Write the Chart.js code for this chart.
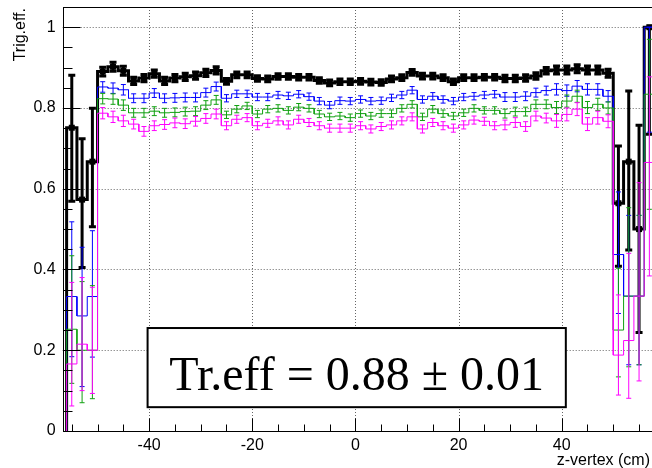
<!DOCTYPE html>
<html>
<head>
<meta charset="utf-8">
<script src="https://cdn.jsdelivr.net/npm/chart.js@4.4.1/dist/chart.umd.min.js"></script>
<style>
  html, body { margin: 0; padding: 0; background: #fff; overflow: hidden; }
</style>
</head>
<body>
<canvas id="eff-chart" width="660" height="468"></canvas>
<script>
// bin centres of the z-vertex histogram (cm), 2 cm bins
const zCenters = [
    -55, -53, -51, -49, -47, -45, -43, -41, -39, -37, -35, -33, -31, -29, -27,
    -25, -23, -21, -19, -17, -15, -13, -11, -9, -7, -5, -3, -1,
    1, 3, 5, 7, 9, 11, 13, 15, 17, 19, 21, 23, 25,
    27, 29, 31, 33, 35, 37, 39, 41, 43, 45, 47, 49,
    51, 53, 55, 57
];
const binHalfWidth = 1;

const effBlack = [
    0.751, 0.573, 0.667,
    0.890, 0.902, 0.892, 0.867, 0.874, 0.885, 0.867, 0.874, 0.877, 0.880, 0.887, 0.893,
    0.866, 0.882, 0.882, 0.873, 0.872, 0.878, 0.878, 0.876, 0.876, 0.868, 0.862, 0.865, 0.865,
    0.866, 0.864, 0.863, 0.872, 0.875, 0.888, 0.879, 0.879, 0.875, 0.865, 0.875, 0.875, 0.876,
    0.876, 0.873, 0.873, 0.874, 0.879, 0.892, 0.894, 0.894, 0.897, 0.894, 0.894, 0.886,
    0.564, 0.667, 0.500, 1.000
];
const errBlackUp = [
    0.130, 0.151, 0.132,
    0.011, 0.011, 0.011, 0.009, 0.009, 0.009, 0.009, 0.009, 0.009, 0.009, 0.009, 0.009,
    0.007, 0.007, 0.007, 0.007, 0.007, 0.007, 0.007, 0.007, 0.007, 0.007, 0.007, 0.007, 0.007,
    0.007, 0.007, 0.007, 0.007, 0.007, 0.007, 0.007, 0.007, 0.007, 0.007, 0.007, 0.007, 0.007,
    0.007, 0.008, 0.008, 0.008, 0.008, 0.008, 0.010, 0.010, 0.010, 0.010, 0.010, 0.010,
    0.142, 0.175, 0.257, 0.000
];
const errBlackDn = [
    0.182, 0.168, 0.161,
    0.011, 0.011, 0.011, 0.009, 0.009, 0.009, 0.009, 0.009, 0.009, 0.009, 0.009, 0.009,
    0.007, 0.007, 0.007, 0.007, 0.007, 0.007, 0.007, 0.007, 0.007, 0.007, 0.007, 0.007, 0.007,
    0.007, 0.007, 0.007, 0.007, 0.007, 0.007, 0.007, 0.007, 0.007, 0.007, 0.007, 0.007, 0.007,
    0.007, 0.008, 0.008, 0.008, 0.008, 0.008, 0.010, 0.010, 0.010, 0.010, 0.010, 0.010,
    0.156, 0.219, 0.256, 0.265
];

const effBlue = [
    0.333, 0.285, 0.333,
    0.852, 0.849, 0.845, 0.824, 0.824, 0.837, 0.824, 0.825, 0.826, 0.826, 0.838, 0.853,
    0.824, 0.835, 0.835, 0.827, 0.827, 0.832, 0.830, 0.834, 0.828, 0.817, 0.807, 0.818, 0.817,
    0.821, 0.817, 0.818, 0.825, 0.832, 0.844, 0.821, 0.829, 0.821, 0.817, 0.827, 0.829, 0.832,
    0.834, 0.827, 0.827, 0.829, 0.838, 0.843, 0.846, 0.843, 0.854, 0.846, 0.846, 0.829,
    0.437, 0.334, 0.334, 1.000
];
const errBlueUp = [
    0.185, 0.170, 0.163,
    0.013, 0.013, 0.013, 0.011, 0.011, 0.011, 0.011, 0.011, 0.011, 0.011, 0.011, 0.011,
    0.009, 0.009, 0.009, 0.009, 0.009, 0.009, 0.009, 0.009, 0.009, 0.009, 0.009, 0.009, 0.009,
    0.009, 0.009, 0.009, 0.009, 0.009, 0.009, 0.009, 0.009, 0.009, 0.009, 0.009, 0.009, 0.009,
    0.009, 0.011, 0.011, 0.011, 0.011, 0.011, 0.014, 0.014, 0.014, 0.014, 0.014, 0.014,
    0.155, 0.200, 0.200, 0.000
];
const errBlueDn = [
    0.149, 0.175, 0.150,
    0.013, 0.013, 0.013, 0.011, 0.011, 0.011, 0.011, 0.011, 0.011, 0.011, 0.011, 0.011,
    0.009, 0.009, 0.009, 0.009, 0.009, 0.009, 0.009, 0.009, 0.009, 0.009, 0.009, 0.009, 0.009,
    0.009, 0.009, 0.009, 0.009, 0.009, 0.009, 0.009, 0.009, 0.009, 0.009, 0.009, 0.009, 0.009,
    0.009, 0.011, 0.011, 0.011, 0.011, 0.011, 0.014, 0.014, 0.014, 0.014, 0.014, 0.014,
    0.146, 0.170, 0.170, 0.260
];

const effGreen = [
    0.252, 0.200, 0.200,
    0.823, 0.822, 0.807, 0.788, 0.788, 0.792, 0.788, 0.789, 0.791, 0.792, 0.807, 0.820,
    0.783, 0.797, 0.805, 0.785, 0.797, 0.799, 0.794, 0.802, 0.799, 0.785, 0.778, 0.780, 0.776,
    0.786, 0.780, 0.786, 0.786, 0.799, 0.809, 0.778, 0.797, 0.786, 0.780, 0.788, 0.799, 0.794,
    0.794, 0.786, 0.791, 0.791, 0.809, 0.809, 0.801, 0.817, 0.829, 0.801, 0.809, 0.800,
    0.250, 0.334, 0.334, 0.834
];
const errGreenUp = [
    0.182, 0.170, 0.160,
    0.013, 0.013, 0.013, 0.011, 0.011, 0.011, 0.011, 0.011, 0.011, 0.011, 0.011, 0.011,
    0.009, 0.009, 0.009, 0.009, 0.009, 0.009, 0.009, 0.009, 0.009, 0.009, 0.009, 0.009, 0.009,
    0.009, 0.009, 0.009, 0.009, 0.009, 0.009, 0.009, 0.009, 0.009, 0.009, 0.009, 0.009, 0.009,
    0.009, 0.011, 0.011, 0.011, 0.011, 0.011, 0.015, 0.015, 0.015, 0.015, 0.015, 0.015,
    0.153, 0.219, 0.200, 0.136
];
const errGreenDn = [
    0.134, 0.130, 0.120,
    0.013, 0.013, 0.013, 0.011, 0.011, 0.011, 0.011, 0.011, 0.011, 0.011, 0.011, 0.011,
    0.009, 0.009, 0.009, 0.009, 0.009, 0.009, 0.009, 0.009, 0.009, 0.009, 0.009, 0.009, 0.009,
    0.009, 0.009, 0.009, 0.009, 0.009, 0.009, 0.009, 0.009, 0.009, 0.009, 0.009, 0.009, 0.009,
    0.009, 0.011, 0.011, 0.011, 0.011, 0.011, 0.015, 0.015, 0.015, 0.015, 0.015, 0.015,
    0.116, 0.175, 0.170, 0.285
];

const effMagenta = [
    0.166, 0.215, 0.200,
    0.787, 0.778, 0.768, 0.760, 0.742, 0.756, 0.759, 0.763, 0.761, 0.767, 0.774, 0.785,
    0.756, 0.772, 0.776, 0.756, 0.762, 0.768, 0.758, 0.772, 0.764, 0.756, 0.750, 0.750, 0.750,
    0.756, 0.748, 0.754, 0.758, 0.768, 0.778, 0.748, 0.764, 0.756, 0.750, 0.758, 0.770, 0.767,
    0.756, 0.758, 0.764, 0.754, 0.780, 0.775, 0.768, 0.784, 0.797, 0.760, 0.776, 0.767,
    0.188, 0.224, 0.334, 0.665
];
const errMagentaUp = [
    0.202, 0.165, 0.156,
    0.014, 0.014, 0.014, 0.012, 0.012, 0.012, 0.012, 0.012, 0.012, 0.012, 0.012, 0.012,
    0.010, 0.010, 0.010, 0.010, 0.010, 0.010, 0.010, 0.010, 0.010, 0.010, 0.010, 0.010, 0.010,
    0.010, 0.010, 0.010, 0.010, 0.010, 0.010, 0.010, 0.010, 0.010, 0.010, 0.010, 0.010, 0.010,
    0.010, 0.012, 0.012, 0.012, 0.012, 0.012, 0.016, 0.016, 0.016, 0.016, 0.016, 0.016,
    0.149, 0.216, 0.281, 0.212
];
const errMagentaDn = [
    0.104, 0.115, 0.107,
    0.014, 0.014, 0.014, 0.012, 0.012, 0.012, 0.012, 0.012, 0.012, 0.012, 0.012, 0.012,
    0.010, 0.010, 0.010, 0.010, 0.010, 0.010, 0.010, 0.010, 0.010, 0.010, 0.010, 0.010, 0.010,
    0.010, 0.010, 0.010, 0.010, 0.010, 0.010, 0.010, 0.010, 0.010, 0.010, 0.010, 0.010, 0.010,
    0.010, 0.012, 0.012, 0.012, 0.012, 0.012, 0.016, 0.016, 0.016, 0.016, 0.016, 0.016,
    0.099, 0.143, 0.210, 0.281
];

// axis ticks
const xMajorTicks = [-40, -20, 0, 20, 40];
const xTickLabels = ['-40', '-20', '0', '20', '40'];
const xMinorTicks = [-55, -50, -45, -35, -30, -25, -15, -10, -5, 5, 10, 15, 25, 30, 35, 45, 50, 55];
const yMajorTicks = [0, 0.2, 0.4, 0.6, 0.8, 1.0];
const yTickLabels = ['0', '0.2', '0.4', '0.6', '0.8', '1'];
const yMinorTicks = [0.05, 0.1, 0.15, 0.25, 0.3, 0.35, 0.45, 0.5, 0.55, 0.65, 0.7, 0.75, 0.85, 0.9, 0.95, 1.0];

const xTitle = 'z-vertex (cm)';
const yTitle = 'Trig.eff.';
const boxText = 'Tr.eff = 0.88 \u00b1 0.01';
const boxCorners = { x0: -40.3, x1: 40.8, y0: 0.059, y1: 0.255 };

const series = [
    { values: effBlack, up: errBlackUp, dn: errBlackDn, color: '#000000', width: 3, cap: 7, marker: 6 },
    { values: effBlue, up: errBlueUp, dn: errBlueDn, color: '#0000ff', width: 1, cap: 5, marker: 0 },
    { values: effGreen, up: errGreenUp, dn: errGreenDn, color: '#10a010', width: 1, cap: 5, marker: 0 },
    { values: effMagenta, up: errMagentaUp, dn: errMagentaDn, color: '#ff00ff', width: 1, cap: 5, marker: 0 }
];

// histogram outline: starts and ends on zero like ROOT's HIST drawing
function stepPoints(values) {
    const pts = [{ x: zCenters[0] - binHalfWidth, y: 0 }];
    values.forEach((v, i) => {
        pts.push({ x: zCenters[i] - binHalfWidth, y: v });
        pts.push({ x: zCenters[i] + binHalfWidth, y: v });
    });
    pts.push({ x: zCenters[zCenters.length - 1] + binHalfWidth, y: 0 });
    return pts;
}

function seg(ctx, x0, y0, x1, y1) {
    ctx.beginPath();
    ctx.moveTo(x0, y0);
    ctx.lineTo(x1, y1);
    ctx.stroke();
}

const rootStyle = {
    id: 'rootStyle',
    beforeDatasetsDraw(chart) {
        const { ctx, chartArea: a, scales: { x, y } } = chart;
        ctx.save();
        ctx.strokeStyle = '#666';
        ctx.lineWidth = 1;
        ctx.setLineDash([1, 2]);
        xMajorTicks.forEach(v => {
            const px = Math.round(x.getPixelForValue(v)) + 0.5;
            seg(ctx, px, a.top, px, a.bottom);
        });
        yMajorTicks.forEach(v => {
            if (v === 0) return;
            const py = Math.round(y.getPixelForValue(v)) + 0.5;
            seg(ctx, a.left, py, a.right, py);
        });
        ctx.restore();
    },
    afterDatasetDraw(chart, args) {
        const s = series[args.index];
        if (!s) return;
        const { ctx, chartArea: a, scales: { x, y } } = chart;
        ctx.save();
        ctx.beginPath();
        ctx.rect(a.left, a.top - 4, a.width, a.height + 4);
        ctx.clip();
        ctx.strokeStyle = s.color;
        ctx.fillStyle = s.color;
        ctx.lineWidth = s.width;
        s.values.forEach((v, i) => {
            const px = x.getPixelForValue(zCenters[i]);
            const py = y.getPixelForValue(v);
            const pt = y.getPixelForValue(v + s.up[i]);
            const pb = y.getPixelForValue(v - s.dn[i]);
            seg(ctx, px, pt, px, pb);
            seg(ctx, px - s.cap / 2, pt, px + s.cap / 2, pt);
            seg(ctx, px - s.cap / 2, pb, px + s.cap / 2, pb);
            if (s.marker) {
                ctx.fillRect(px - s.marker / 2, py - s.marker / 2, s.marker, s.marker);
            }
        });
        ctx.restore();
    },
    afterDraw(chart) {
        const { ctx, chartArea: a, scales: { x, y } } = chart;
        ctx.save();
        ctx.strokeStyle = '#000';
        ctx.lineWidth = 1;
        ctx.strokeRect(Math.round(a.left) + 0.5, Math.round(a.top) + 0.5,
            Math.round(a.width), Math.round(a.height));

        const bottom = Math.round(a.bottom) + 0.5;
        const left = Math.round(a.left) + 0.5;
        xMajorTicks.forEach(v => {
            const px = Math.round(x.getPixelForValue(v)) + 0.5;
            seg(ctx, px, bottom, px, bottom - 13);
        });
        xMinorTicks.forEach(v => {
            const px = Math.round(x.getPixelForValue(v)) + 0.5;
            seg(ctx, px, bottom, px, bottom - 7);
        });
        yMajorTicks.forEach(v => {
            const py = Math.round(y.getPixelForValue(v)) + 0.5;
            seg(ctx, left, py, left + 17, py);
        });
        yMinorTicks.forEach(v => {
            const py = Math.round(y.getPixelForValue(v)) + 0.5;
            seg(ctx, left, py, left + 9, py);
        });

        ctx.fillStyle = '#000';
        ctx.font = '16px "Liberation Sans", Arial, Helvetica, sans-serif';
        ctx.textAlign = 'center';
        ctx.textBaseline = 'alphabetic';
        xMajorTicks.forEach((v, i) => {
            ctx.fillText(xTickLabels[i], x.getPixelForValue(v), a.bottom + 19);
        });
        ctx.textAlign = 'right';
        ctx.textBaseline = 'middle';
        yMajorTicks.forEach((v, i) => {
            ctx.fillText(yTickLabels[i], a.left - 7, y.getPixelForValue(v));
        });

        ctx.textAlign = 'right';
        ctx.textBaseline = 'alphabetic';
        ctx.fillText(xTitle, 650, a.bottom + 34);
        ctx.save();
        ctx.translate(25, a.top + 1);
        ctx.rotate(-Math.PI / 2);
        ctx.textAlign = 'right';
        ctx.fillText(yTitle, 0, 0);
        ctx.restore();

        // result box
        const bx0 = x.getPixelForValue(boxCorners.x0);
        const bx1 = x.getPixelForValue(boxCorners.x1);
        const by0 = y.getPixelForValue(boxCorners.y1);
        const by1 = y.getPixelForValue(boxCorners.y0);
        ctx.fillStyle = '#fff';
        ctx.fillRect(bx0, by0, bx1 - bx0, by1 - by0);
        ctx.lineWidth = 2;
        ctx.strokeRect(bx0, by0, bx1 - bx0, by1 - by0);
        ctx.fillStyle = '#000';
        ctx.font = '48px "Liberation Serif", "Times New Roman", Times, serif';
        ctx.textAlign = 'center';
        ctx.textBaseline = 'alphabetic';
        ctx.fillText(boxText, (bx0 + bx1) / 2, by1 - 17);
        ctx.restore();
    }
};

new Chart(document.getElementById('eff-chart').getContext('2d'), {
    type: 'line',
    data: {
        datasets: series.map((s, i) => ({
            data: stepPoints(s.values),
            borderColor: s.color,
            borderWidth: s.width,
            pointRadius: 0,
            fill: false,
            tension: 0,
            order: series.length - i
        }))
    },
    options: {
        responsive: false,
        animation: false,
        events: [],
        layout: { padding: { left: 62.7, top: 7, right: 2.9, bottom: 37 } },
        scales: {
            x: { type: 'linear', min: -56.76, max: 58.5, display: false },
            y: { type: 'linear', min: 0, max: 1.05, display: false }
        },
        plugins: {
            legend: { display: false },
            tooltip: { enabled: false }
        }
    },
    plugins: [rootStyle]
});
</script>
</body>
</html>
